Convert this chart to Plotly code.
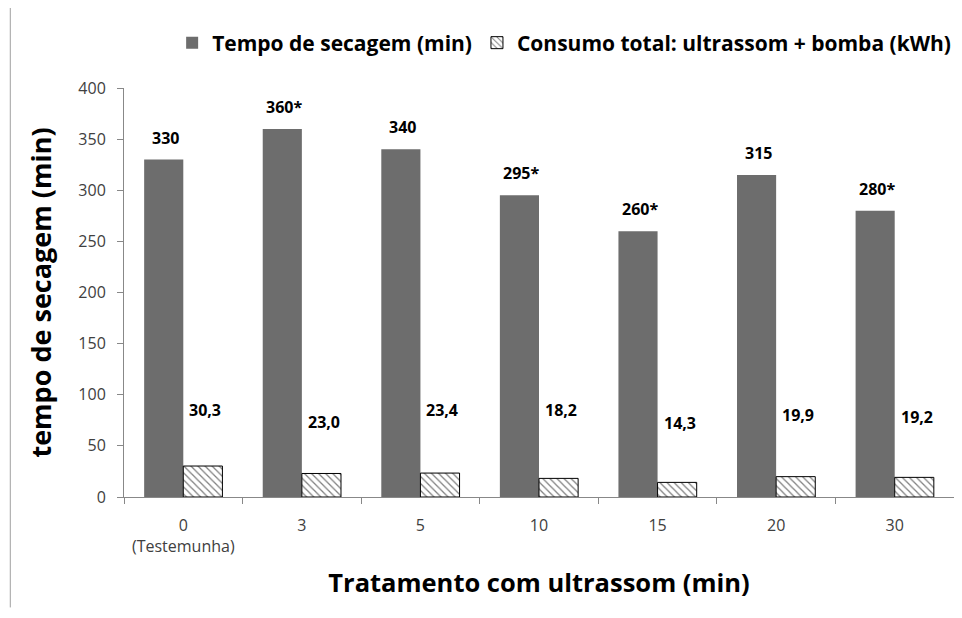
import plotly.graph_objects as go

# data
tratamentos = ["0", "3", "5", "10", "15", "20", "30"]
tick_labels = ["0<br>(Testemunha)", "3", "5", "10", "15", "20", "30"]
tempo_secagem = [330, 360, 340, 295, 260, 315, 280]
tempo_labels = ["330", "360*", "340", "295*", "260*", "315", "280*"]
consumo_total = [30.3, 23.0, 23.4, 18.2, 14.3, 19.9, 19.2]
consumo_labels = ["30,3", "23,0", "23,4", "18,2", "14,3", "19,9", "19,2"]
# where the consumo labels were dragged to in the original (data units)
consumo_label_y = [85, 73, 85, 85, 72, 80, 78]

FONT = "Open Sans"

fig = go.Figure()
fig.add_trace(go.Bar(
    x=tratamentos, y=tempo_secagem, name="Tempo de secagem (min)",
    marker=dict(color="#6d6d6d", line=dict(width=0)),
))
fig.add_trace(go.Bar(
    x=tratamentos, y=consumo_total, name="Consumo total: ultrassom + bomba (kWh)",
    marker=dict(color="white", line=dict(color="black", width=1),
                pattern=dict(shape="\\", fgcolor="black", bgcolor="white",
                             size=5, solidity=0.25)),
))

# labels (x given as category index so "30" is not read as index 30)
for i, (v, t) in enumerate(zip(tempo_secagem, tempo_labels)):
    fig.add_annotation(x=i, y=v, text=t, showarrow=False, xshift=-18,
                       yanchor="bottom", yshift=9,
                       font=dict(family=FONT, size=16, color="black", weight="bold"))
for i, (ly, t) in enumerate(zip(consumo_label_y, consumo_labels)):
    fig.add_annotation(x=i, y=ly, text=t, showarrow=False, xshift=22,
                       font=dict(family=FONT, size=16, color="black", weight="bold"))

# left frame line of the original picture
fig.add_shape(type="line", xref="paper", yref="paper",
              x0=-0.137, x1=-0.137, y0=-0.27, y1=1.22,
              line=dict(color="#a0a0a0", width=1))

# page body has an 8px margin, so left/top margins are 8px smaller
fig.update_layout(
    width=962, height=618,
    margin=dict(l=116, r=16, t=80, b=129),
    paper_bgcolor="white", plot_bgcolor="white",
    barmode="group", bargap=0.34, bargroupgap=0,
    font=dict(family=FONT, color="#404040", size=16),
    legend=dict(orientation="h", x=0.058, xanchor="left", y=1.11, yanchor="middle",
                font=dict(family=FONT, size=21, color="black", weight="bold"),
                itemwidth=30, traceorder="normal"),
    showlegend=True,
)
fig.update_xaxes(
    type="category", range=[-0.5, len(tratamentos) - 0.5],
    tickvals=tratamentos, ticktext=tick_labels, tickson="boundaries",
    ticks="outside", ticklen=6, tickcolor="#888", showline=True, linecolor="#888",
    showgrid=False, tickangle=0, ticklabelstandoff=14,
    tickfont=dict(size=16, color="#404040"),
    title=dict(text="Tratamento com ultrassom (min)", standoff=18,
               font=dict(family=FONT, size=25.5, color="black", weight="bold")),
)
fig.update_yaxes(
    range=[0, 400], dtick=50, ticks="outside", ticklen=6, tickcolor="#888",
    showline=True, linecolor="#888", showgrid=False, zeroline=False,
    ticklabelstandoff=8, tickfont=dict(size=16, color="#404040"),
    title=dict(text="tempo de secagem (min)", standoff=18,
               font=dict(family=FONT, size=27, color="black", weight="bold")),
)

fig.write_html("out.html")
